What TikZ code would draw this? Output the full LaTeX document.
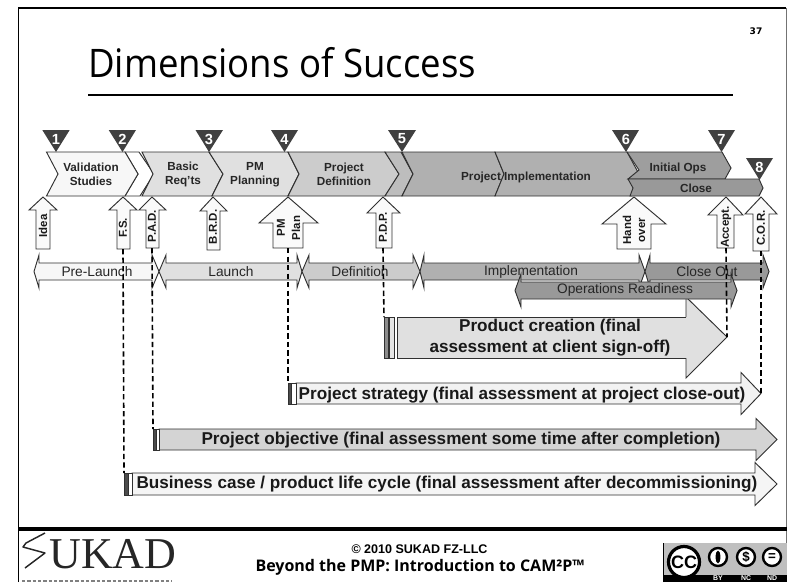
\documentclass[tikz,border=0pt]{standalone}
\usepackage{fontspec}
\setmainfont{Liberation Sans}
\newfontfamily\titlefont{Open Sans}
\newfontfamily\logofont{Liberation Serif}
\newfontfamily\numfont{DejaVu Sans}
\definecolor{edge}{HTML}{303030}
\tikzset{
  shp/.style={draw=edge,line width=0.7pt,line join=miter},
  lab/.style={font=\bfseries\fontsize{8.8}{10.5}\selectfont,align=center,text=black!85,inner sep=0},
  tlab/.style={font=\fontsize{10.3}{12}\selectfont,text=black!85,inner sep=0},
  vlab/.style={font=\bfseries\fontsize{8.6}{10}\selectfont,rotate=90,text=black!90,inner sep=0},
  big/.style={font=\bfseries\fontsize{12.85}{15.7}\selectfont,text=black!90,inner sep=0,align=center},
  tri/.style={fill=black!75,draw=none},
  num/.style={font=\bfseries\fontsize{11}{12}\selectfont,text=white,inner sep=0},
  conn/.style={draw=black,line width=1.2pt,dash pattern=on 4pt off 2.4pt},
}
\newcommand{\Marker}[5]{%
  \fill[tri] (#2,#5) -- (#3,#5) -- (#4,#5+22) -- cycle;
  \node[num] (#1) at (#4,#5+9) {#1};}
\newcommand{\UpArr}[8]{%
  \draw[shp,fill=white!98!black] (#2,197) -- (#4,#7) -- (#6,#7) -- (#6,#8) -- (#5,#8) -- (#5,#7) -- (#3,#7) -- cycle;
  \coordinate (#1) at (#2,#8);}
\newcommand{\Span}[9]{%
  \draw[shp,fill=#1] (#2,#6/2+#7/2) -- (#3,#8) -- (#3,#6) -- (#4,#6) -- (#4,#8) -- (#5,#6/2+#7/2) -- (#4,#9) -- (#4,#7) -- (#3,#7) -- (#3,#9) -- cycle;}
\newcommand{\LongArr}[8]{%
  \draw[shp,fill=#1] (#4,#7) -- (#5,#7) -- (#5,#7-10.5) -- (#6,#7/2+#8/2) -- (#5,#8+10.5) -- (#5,#8) -- (#4,#8) -- cycle;}
\begin{document}
\begin{tikzpicture}[x=0.75pt,y=-0.75pt]
\useasboundingbox (0,0) rectangle (787,582);
\fill[white] (0,0) rectangle (787,582);
% frame
\draw[black,line width=1.4pt] (18.5,582) -- (18.5,8) -- (786,8);
\draw[black!55,line width=0.6pt] (786,8) -- (786,582);
\draw[black,line width=3pt] (18,529) -- (787,529);
% title
\node[anchor=base west,inner sep=0,font=\titlefont\fontsize{29.5}{32}\selectfont] (title) at (88,77) {\scalebox{0.93}[1]{Dimensions of Success}};
\coordinate (ruleL) at (88,95);\coordinate (ruleR) at (733,95);
\draw[black,line width=1.5pt] (ruleL) -- (ruleR);
\node[inner sep=0,font=\numfont\bfseries\fontsize{6.8}{8}\selectfont] (page) at (756,31) {37};
% chevrons
\draw[shp,fill=white] (125,152) -- (139,152) -- (154,174) -- (140,196) -- (125,196) -- (138,174) -- cycle;
\draw[shp,fill=black!3] (46.5,152) -- (125,152) -- (138,174) -- (125,196) -- (46.5,196) -- (58,174) -- cycle;
\draw[shp,fill=black!12] (142,152) -- (209,152) -- (223,174) -- (212,196) -- (142,196) -- (153,174) -- cycle;
\draw[shp,fill=black!12] (209,152) -- (288,152) -- (299,174) -- (288,196) -- (212,196) -- (223,174) -- cycle;
\draw[shp,fill=black!20] (288,152) -- (385,152) -- (399,174) -- (385,196) -- (288,196) -- (299,174) -- cycle;
\draw[shp,fill=black!26] (385,152) -- (401,152) -- (413,174) -- (402,196) -- (385,196) -- (399,174) -- cycle;
\draw[shp,fill=black!31] (402,152) -- (495,152) -- (504,174) -- (495,196) -- (402,196) -- (413,174) -- cycle;
\draw[shp,fill=black!31] (495,152) -- (627,152) -- (639,174) -- (632,196) -- (495,196) -- (504,174) -- cycle;
\draw[shp,fill=black!38] (627,152) -- (722,152) -- (731,168) -- (725,179) -- (628,179) -- (639,170) -- cycle;
\draw[shp,fill=black!40] (628,179) -- (759,179) -- (763,188) -- (759,196) -- (630,196) -- (633,188) -- cycle;
\node[lab] (c1) at (91,174.5) {Validation\\Studies};
\node[lab] (c3) at (183,174.5) {Basic\\Req’ts};
\node[lab] (c4) at (255,174.5) {PM\\Planning};
\node[lab] (c5) at (344,174.5) {Project\\Definition};
\node[lab] (c6) at (526,177) {Project Implementation};
\node[lab] (c7) at (678,168) {Initial Ops};
\node[lab] (c8) at (696,188) {Close};
% markers
\Marker{1}{42.3}{69.7}{56}{130}
\Marker{2}{108.7}{136}{122.5}{130}
\Marker{3}{195.5}{223}{209}{130}
\Marker{4}{271}{298}{284.5}{130}
\Marker{5}{388}{416}{402}{130}
\Marker{6}{612}{639}{626}{130}
\Marker{7}{708}{735}{721.5}{130}
\Marker{8}{746}{773}{759.5}{158}
% up arrows
\UpArr{aIdea}{43}{29}{57}{36}{50}{210}{249}
\UpArr{aFS}{123}{109}{137}{117}{130}{210}{249}
\UpArr{aPAD}{152}{139}{166}{146}{159}{210}{248}
\UpArr{aBRD}{213}{200}{227}{207}{220}{211}{250}
\UpArr{aPM}{288}{259}{318}{273}{303}{223}{248}
\UpArr{aPDP}{383}{367}{400}{376}{392}{213}{248}
\UpArr{aHO}{634}{602}{666}{617}{651}{224}{249}
\UpArr{aAcc}{726}{708}{743}{717}{734}{215}{248}
\UpArr{aCOR}{761}{745}{777}{753}{769}{214}{251}
\node[vlab] (v1) at (43,226) {Idea};
\node[vlab] (v2) at (123,228) {F.S.};
\node[vlab] (v3) at (152,226) {P.A.D.};
\node[vlab] (v4) at (213,227) {B.R.D.};
\node[vlab] (v5a) at (281,228) {PM};
\node[vlab] (v5b) at (296,228) {Plan};
\node[vlab] (v6) at (383,227) {P.D.P.};
\node[vlab] (v7a) at (627,230) {Hand};
\node[vlab] (v7b) at (642,230) {over};
\node[vlab] (v8) at (726,227) {Accept.};
\node[vlab] (v9) at (761,228) {C.O.R.};
% product arrow
\fill[black!12] (397,317) rectangle (686,358);
\draw[shp] (686,317) -- (397,317) -- (397,358) -- (686,358);
\fill[black!12] (686,297) -- (727,337) -- (686,378) -- cycle;
\draw[shp] (686,317) -- (686,297) -- (727,337) -- (686,378) -- (686,358);
\draw[shp,fill=black!45] (384,317) rectangle (388.5,358);
\draw[shp,fill=black!10] (389,317) rectangle (394,358);
% spans
\Span{black!3}{34}{39}{152}{159}{263}{280}{255}{288}
\Span{black!12}{159}{166}{297}{302}{263}{280}{255}{288}
\Span{black!20}{302}{309}{413}{420}{263}{280}{255}{288}
\Span{black!31}{420}{424}{639}{645}{263}{280}{255}{288}
\Span{black!40}{645}{650}{763}{769}{263}{280}{255}{288}
\Span{black!40}{515}{521}{731}{737}{282}{299}{274}{307}
\node[tlab] (s1) at (97,272) {Pre-Launch};
\node[tlab] (s2) at (231,272) {Launch};
\node[tlab] (s3) at (360,272) {Definition};
\node[tlab] (s4) at (531,272) {Implementation};
\node[tlab] (s5) at (707,272) {Close Out};
\node[tlab] (s6) at (625,290) {Operations Readiness};
% long arrows
\LongArr{black!5}{288}{291}{296}{741}{761}{383}{404}
\draw[shp,fill=black!70] (288,383) rectangle (291,404);
\draw[shp,fill=white] (291.5,383) rectangle (296,404);
\LongArr{black!17}{153}{156}{159}{756}{777}{429}{450}
\draw[shp,fill=black!70] (153,429) rectangle (156,450);
\draw[shp,fill=white] (156,429) rectangle (159,450);
\LongArr{black!4}{124}{128}{132}{755}{777}{473}{495}
\draw[shp,fill=black!70] (124,473) rectangle (128,495);
\draw[shp,fill=white] (128,473) rectangle (132,495);
\node[big] (t1) at (550,337.5) {Product creation (final\\assessment at client sign-off)};
\node[big] (t2) at (522,395) {Project strategy (final assessment at project close-out)};
\node[big] (t3) at (461,440) {Project objective (final assessment some time after completion)};
\node[big] (t4) at (447,484) {Business case / product life cycle (final assessment after decommissioning)};
% connectors
\coordinate (eProd) at (384,317);
\coordinate (eAcc) at (727,337);
\coordinate (eStr) at (288,383);
\coordinate (eCor) at (761,394);
\coordinate (eObj) at (153,429);
\coordinate (eBus) at (124,473);
\draw[conn] (aFS) -- (eBus);
\draw[conn] (aPAD) -- (eObj);
\draw[conn] (aPM) -- (eStr);
\draw[conn] (aPDP) -- (eProd);
\draw[conn] (aAcc) -- (eAcc);
\draw[conn] (aCOR) -- (eCor);
% footer
\node[inner sep=0,font=\bfseries\fontsize{9.4}{11}\selectfont] (f1) at (419.5,549) {© 2010 SUKAD FZ-LLC};
\node[inner sep=0,font=\titlefont\bfseries\fontsize{12}{14}\selectfont] (f2) at (420,567) {Beyond the PMP: Introduction to CAM²P™};
% SUKAD logo
\draw[black!85,line width=1.1pt,line join=round] (45,533) -- (26,543) -- (23,547) -- (45,553) -- (25,568);
\node[anchor=base west,inner sep=0,font=\logofont\fontsize{33}{35}\selectfont,text=black!85] (logo) at (49,568) {UKAD};
\draw[black!50,line width=2pt,dash pattern=on 2.5pt off 1.5pt] (22,581) -- (172,581);
% CC badge
\fill[black!25] (663,543) rectangle (787,582);
\draw[black,line width=1pt] (663.5,582) -- (663.5,543);
\fill[black] (663,575) rectangle (787,582);
\draw[black,line width=2.4pt,fill=white] (684,562) circle (15.5);
\node[inner sep=0,font=\bfseries\fontsize{13.5}{14}\selectfont] (cc) at (684,562) {CC};
\foreach \cx/\nm/\tx in {718/by/,746/nc/\$,772/nd/=}{
  \draw[black,line width=1.8pt,fill=white] (\cx,557) circle (9);
  \node[inner sep=0,font=\bfseries\fontsize{10}{11}\selectfont] (\nm) at (\cx,557) {\tx};
}
\fill[black] (718,557) ellipse (2.4 and 6.5);
\node[inner sep=0,text=white,font=\bfseries\fontsize{5.2}{6}\selectfont] (bn1) at (718,578.5) {BY};
\node[inner sep=0,text=white,font=\bfseries\fontsize{5.2}{6}\selectfont] (bn2) at (746,578.5) {NC};
\node[inner sep=0,text=white,font=\bfseries\fontsize{5.2}{6}\selectfont] (bn3) at (772,578.5) {ND};
\end{tikzpicture}
\end{document}
